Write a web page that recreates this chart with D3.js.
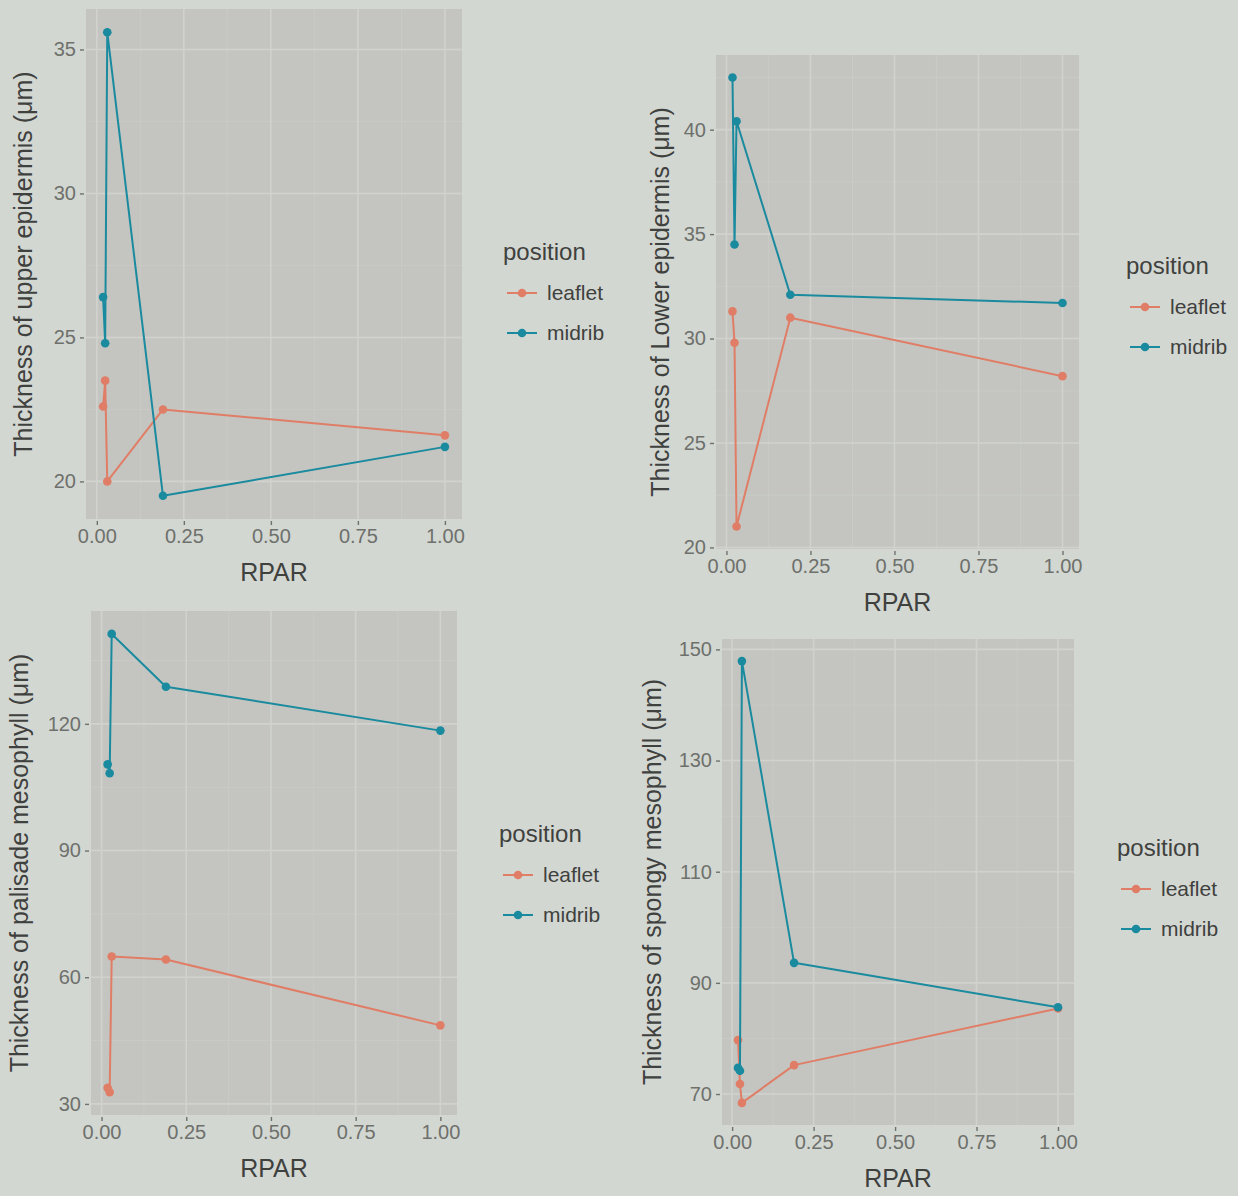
<!DOCTYPE html>
<head>
    <meta charset="utf-8">
    <title>Leaf tissue thickness vs RPAR</title>
    <script src="https://d3js.org/d3.v7.min.js"></script>
    <style>
    body {
        margin: 0;
        background: #d3d7d2;
    }
    text {
        font-family: "Liberation Sans", Arial, sans-serif;
    }
    </style>
</head>

<body>
    <script>
    // relative PAR levels (shared by all four panels)
    var rpar = [0.018, 0.024, 0.03, 0.19, 1.0];
    var positions = ["leaflet", "midrib"];
    var colours = ["#e07d66", "#1a8a9f"];

    // thickness values (µm)
    var upperLeaflet = [22.6, 23.5, 20.0, 22.5, 21.6];
    var upperMidrib = [26.4, 24.8, 35.6, 19.5, 21.2];
    var lowerLeaflet = [31.3, 29.8, 21.0, 31.0, 28.2];
    var lowerMidrib = [42.5, 34.5, 40.4, 32.1, 31.7];
    var palisadeLeaflet = [33.8, 32.8, 64.9, 64.2, 48.6];
    var palisadeMidrib = [110.4, 108.3, 141.3, 128.8, 118.4];
    var spongyLeaflet = [79.7, 71.8, 68.4, 75.2, 85.4];
    var spongyMidrib = [74.7, 74.2, 147.9, 93.6, 85.6];

    var xTicks = [0, 0.25, 0.5, 0.75, 1.0];
    var upperTicks = [20, 25, 30, 35];
    var lowerTicks = [20, 25, 30, 35, 40];
    var palisadeTicks = [30, 60, 90, 120];
    var spongyTicks = [70, 90, 110, 130, 150];

    var width = 1238,
        height = 1196;

    var svg = d3.select("body").append("svg")
        .attr("width", width)
        .attr("height", height);

    var panels = [
        {ylab: "Thickness of upper epidermis (\u03bcm)", series: [upperLeaflet, upperMidrib], ticks: upperTicks,
         box: {x: 86, y: 9, w: 376, h: 510}, ylabX: 23, legend: {x: 503, y: 252}},
        {ylab: "Thickness of Lower epidermis (\u03bcm)", series: [lowerLeaflet, lowerMidrib], ticks: lowerTicks,
         box: {x: 716, y: 55, w: 363, h: 494}, ylabX: 660, legend: {x: 1126, y: 266}},
        {ylab: "Thickness of palisade mesophyll (\u03bcm)", series: [palisadeLeaflet, palisadeMidrib], ticks: palisadeTicks,
         box: {x: 91, y: 611, w: 366, h: 504}, ylabX: 19, legend: {x: 499, y: 834}},
        {ylab: "Thickness of spongy mesophyll (\u03bcm)", series: [spongyLeaflet, spongyMidrib], ticks: spongyTicks,
         box: {x: 722, y: 639, w: 352, h: 486}, ylabX: 652, legend: {x: 1117, y: 848}}
    ];

    // ggplot style 5% expansion of a continuous range
    function expand(ext) {
        var pad = (ext[1] - ext[0]) * 0.05;
        return [ext[0] - pad, ext[1] + pad];
    }

    function minors(major, dom) {
        var step = major[1] - major[0],
            out = [];
        for (var v = major[0] - step / 2; v <= dom[1]; v += step) {
            if (v >= dom[0]) out.push(v);
        }
        return out;
    }

    panels.forEach(function(p) {
        var b = p.box;
        var x = d3.scaleLinear().domain(expand(d3.extent(rpar))).range([b.x, b.x + b.w]);
        var allY = p.series[0].concat(p.series[1]);
        var y = d3.scaleLinear().domain(expand(d3.extent(allY))).range([b.y + b.h, b.y]);

        var g = svg.append("g");

        g.append("rect")
            .attr("x", b.x).attr("y", b.y)
            .attr("width", b.w).attr("height", b.h)
            .attr("fill", "#c4c5c0");

        // minor grid
        var grid = g.append("g").attr("stroke", "#cacbc6").attr("stroke-width", 0.9);
        grid.selectAll(".mx").data(minors(xTicks, x.domain())).enter().append("line")
            .attr("x1", x).attr("x2", x).attr("y1", b.y).attr("y2", b.y + b.h);
        grid.selectAll(".my").data(minors(p.ticks, y.domain())).enter().append("line")
            .attr("y1", y).attr("y2", y).attr("x1", b.x).attr("x2", b.x + b.w);

        // major grid
        var major = g.append("g").attr("stroke", "#d1d2ce").attr("stroke-width", 1.6);
        major.selectAll("line.vx").data(xTicks).enter().append("line")
            .attr("x1", x).attr("x2", x).attr("y1", b.y).attr("y2", b.y + b.h);
        major.selectAll("line.hy").data(p.ticks).enter().append("line")
            .attr("y1", y).attr("y2", y).attr("x1", b.x).attr("x2", b.x + b.w);

        // axes
        var xAxis = d3.axisBottom(x).tickValues(xTicks).tickFormat(d3.format(".2f"))
            .tickSize(4).tickPadding(4);
        var yAxis = d3.axisLeft(y).tickValues(p.ticks).tickFormat(d3.format("d"))
            .tickSize(4).tickPadding(4);

        var gx = g.append("g").attr("transform", "translate(0," + (b.y + b.h + 2) + ")").call(xAxis);
        var gy = g.append("g").attr("transform", "translate(" + (b.x - 2) + ",0)").call(yAxis);
        [gx, gy].forEach(function(a) {
            a.select(".domain").remove();
            a.selectAll(".tick line").attr("stroke", "#6f716d").attr("stroke-width", 1.4);
            a.selectAll(".tick text").attr("fill", "#6e706c").style("font-size", "20px");
        });

        g.append("text")
            .attr("x", b.x + b.w / 2)
            .attr("y", b.y + b.h + 62)
            .attr("text-anchor", "middle")
            .attr("fill", "#3f413e")
            .style("font-size", "25px")
            .text("RPAR");

        g.append("text")
            .attr("transform", "translate(" + p.ylabX + "," + (b.y + b.h / 2) + ") rotate(-90)")
            .attr("text-anchor", "middle")
            .attr("dy", "0.35em")
            .attr("fill", "#3f413e")
            .style("font-size", "25px")
            .text(p.ylab);

        // lines then points, leaflet first
        var line = d3.line()
            .x(function(d, i) { return x(rpar[i]); })
            .y(function(d) { return y(d); });

        p.series.forEach(function(vals, k) {
            g.append("path")
                .datum(vals)
                .attr("fill", "none")
                .attr("stroke", colours[k])
                .attr("stroke-width", 2)
                .attr("stroke-linejoin", "round")
                .attr("d", line);
            g.selectAll(".pt" + k).data(vals).enter().append("circle")
                .attr("cx", function(d, i) { return x(rpar[i]); })
                .attr("cy", y)
                .attr("r", 4.3)
                .attr("fill", colours[k]);
        });

        // legend
        var lg = g.append("g").attr("transform", "translate(" + p.legend.x + "," + p.legend.y + ")");
        lg.append("text")
            .attr("dy", "0.35em")
            .attr("fill", "#3f413e")
            .style("font-size", "24px")
            .text("position");
        positions.forEach(function(name, k) {
            var ly = 41 + k * 40;
            lg.append("line")
                .attr("x1", 4).attr("x2", 34).attr("y1", ly).attr("y2", ly)
                .attr("stroke", colours[k]).attr("stroke-width", 2);
            lg.append("circle")
                .attr("cx", 19).attr("cy", ly).attr("r", 4.3)
                .attr("fill", colours[k]);
            lg.append("text")
                .attr("x", 44).attr("y", ly)
                .attr("dy", "0.35em")
                .attr("fill", "#3f413e")
                .style("font-size", "21px")
                .text(name);
        });
    });
    </script>
</body>
